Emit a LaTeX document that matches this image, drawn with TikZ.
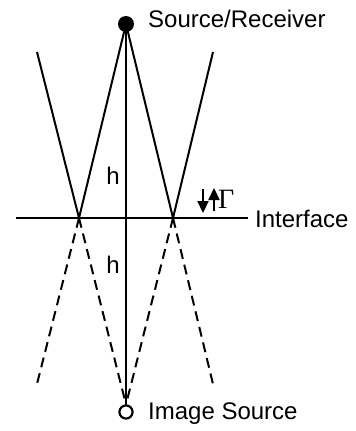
\documentclass[tikz,border=0pt]{standalone}
\usepackage{fontspec}
\setmainfont{Liberation Sans}
\newfontfamily\gammafont{Liberation Serif}
\usetikzlibrary{arrows.meta}
\begin{document}
\begin{tikzpicture}[x=1pt,y=-1pt,
  ray/.style={line width=2pt},
  virt/.style={line width=2pt,dash pattern=on 10pt off 6pt},
  lbl/.style={font=\fontsize{24}{26}\selectfont,inner sep=0pt},
  dir/.style={line width=2.2pt,-{Triangle[length=12pt,width=11pt]}}]
\useasboundingbox (0,0) rectangle (356,431);
% points
\node[circle,fill=black,minimum size=16pt,inner sep=0pt] (src) at (126,24) {};
\node[circle,draw=black,line width=2pt,fill=white,minimum size=13pt,inner sep=0pt] (img) at (126,412) {};
\coordinate (L) at (79,218);
\coordinate (R) at (173,218);
\coordinate (Lu) at (37,52);
\coordinate (Ru) at (213,52);
\coordinate (Ld) at (37,384);
\coordinate (Rd) at (213,384);
\coordinate (iL) at (16,218);
\coordinate (iR) at (248,218);
% interface
\draw[ray] (iL) -- (iR);
% vertical
\draw[ray] (src.center) -- (img.north);
% real rays
\draw[ray] (Lu) -- (L) -- (src.center) -- (R) -- (Ru);
% virtual rays
\draw[virt] (L) -- (Ld);
\draw[virt] (R) -- (Rd);
\draw[virt] (L) -- (img.north);
\draw[virt] (R) -- (img.north);
\node[circle,draw=black,line width=2pt,fill=white,minimum size=13pt,inner sep=0pt] at (img) {};
% labels
\node[lbl,anchor=west] (tsrc) at (148,19) {Source/Receiver};
\node[lbl,anchor=west] (timg) at (148,414) {Image Source};
\node[lbl,anchor=west] (tint) at (255,219) {Interface};
\node[lbl] (h1) at (113,176) {h};
\node[lbl] (h2) at (113,265) {h};
% reflection coefficient
\coordinate (da) at (203,189);
\coordinate (db) at (203,213);
\coordinate (ua) at (214,211);
\coordinate (ub) at (214,188);
\draw[dir] (da) -- (db);
\draw[dir] (ua) -- (ub);
\node[inner sep=0pt,anchor=west,font=\gammafont\fontsize{28}{30}\selectfont] (G) at (218,199) {Γ};
\end{tikzpicture}
\end{document}
